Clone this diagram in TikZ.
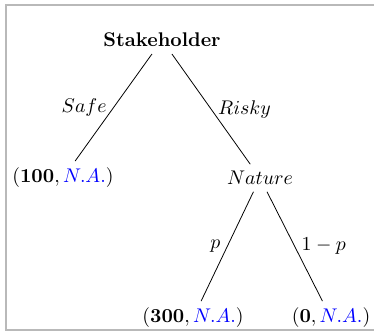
\documentclass[tikz,border=0pt]{standalone}
\usepackage{amsmath}
\usepackage{amssymb}
\usepackage{xcolor}
\usepackage{tikz}
\usetikzlibrary{positioning, calc}

\begin{document}
\begin{tikzpicture}[
    payoff/.style={font=\normalsize},
    branch/.style={draw, line width=0.4pt},
    frameline/.style={draw=gray!55, line width=0.8pt}]
    \useasboundingbox (0,0) rectangle (6.638,5.910);

    % Frame
    \draw[frameline] (6.80,5.822) -- (0.107,5.822) -- (0.107,0.053) -- (6.80,0.053);

    % Decision nodes
    \node (stake) at (2.875,5.20) {\textbf{Stakeholder}};
    \node (nature) at (4.615,2.751) {$Nature$};

    % Payoffs
    \node[payoff] (safe) at (1.118,2.751) {$(\mathbf{100}, \textcolor{blue}{N.A.})$};
    \node[payoff] (win) at (3.426,0.266) {$(\mathbf{300}, \textcolor{blue}{N.A.})$};
    \node[payoff] (lose) at (5.875,0.266) {$(\mathbf{0}, \textcolor{blue}{N.A.})$};

    % Branches
    \draw[branch] (stake) -- node[left] {$Safe$} (safe);
    \draw[branch] (stake) -- node[right] {$Risky$} (nature);
    \draw[branch] (nature) -- node[left] {$p$} (win);
    \draw[branch] (nature) -- node[right] {$1-p$} (lose);
\end{tikzpicture}
\end{document}
